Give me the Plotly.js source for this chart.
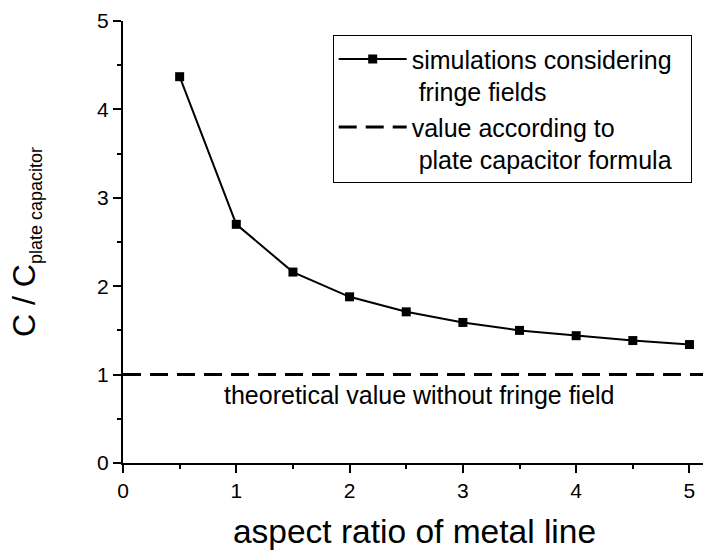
<!DOCTYPE html>
<html>
<head>
<meta charset="utf-8">
<script src="https://cdn.plot.ly/plotly-3.0.1.min.js"></script>
<style>
html,body{margin:0;padding:0;overflow:hidden;background:#fff;}
#chart{width:710px;height:554px;}
</style>
</head>
<body>
<div id="chart"></div>
<script>
// ---- data ----
var aspectRatio = [0.5, 1, 1.5, 2, 2.5, 3, 3.5, 4, 4.5, 5];
var capRatio    = [4.37, 2.70, 2.16, 1.88, 1.71, 1.59, 1.50, 1.44, 1.385, 1.34];
var plateValue  = 1;
var xRange = [0, 5.146];
var yRange = [0, 5];
var simLabel   = 'simulations considering&nbsp;&nbsp;<br>&nbsp;fringe fields';
var plateLabel = 'value according to<br>&nbsp;plate capacitor formula';
var noteText   = 'theoretical value without fringe field';
var noteX = 2.62, noteY = 0.77;
var xTitle = 'aspect ratio of metal line';
var yTitle = 'C / C<sub><span style="font-size:18px">plate capacitor</span></sub>';

var FONT = 'Arial, "Liberation Sans", sans-serif';

var traces = [
  {
    x: aspectRatio, y: capRatio, type: 'scatter', mode: 'lines+markers',
    name: simLabel,
    line: {color: '#000', width: 2},
    marker: {symbol: 'square', size: 9, color: '#000'},
    cliponaxis: false
  },
  {
    x: xRange, y: [plateValue, plateValue], type: 'scatter', mode: 'lines',
    name: plateLabel,
    line: {color: '#000', width: 3, dash: '18px,9px'}
  }
];

var layout = {
  width: 710, height: 554,
  margin: {l: 123, r: 4, t: 21, b: 91},
  paper_bgcolor: '#fff', plot_bgcolor: '#fff',
  font: {family: FONT, color: '#000', size: 21},
  showlegend: true,
  legend: {
    x: 0.3597, y: 0.968, xanchor: 'left', yanchor: 'top',
    bordercolor: '#000', borderwidth: 1, bgcolor: '#fff',
    font: {family: FONT, size: 25, color: '#000'},
    itemwidth: 68, valign: 'top', tracegroupgap: 0
  },
  xaxis: {
    range: xRange, showgrid: false, zeroline: false,
    showline: true, linecolor: '#000', linewidth: 2,
    ticks: 'outside', ticklen: 8, tickwidth: 2, tickcolor: '#000',
    tick0: 0, dtick: 1,
    minor: {ticks: 'outside', ticklen: 4, tickwidth: 2, tickcolor: '#000', dtick: 0.5},
    tickfont: {family: FONT, size: 21, color: '#000'},
    title: {text: xTitle, font: {family: FONT, size: 33.5, color: '#000'}, standoff: 18}
  },
  xaxis2: {
    range: xRange, overlaying: 'x', side: 'top', anchor: 'y',
    showgrid: false, zeroline: false, showline: true, linecolor: '#000', linewidth: 2,
    ticks: 'inside', ticklen: 8, tickwidth: 2, tickcolor: '#000',
    tick0: 0, dtick: 0.5, showticklabels: false
  },
  yaxis: {
    range: yRange, showgrid: false, zeroline: false,
    showline: true, linecolor: '#000', linewidth: 2,
    ticks: 'outside', ticklen: 8, tickwidth: 2, tickcolor: '#000',
    tick0: 0, dtick: 1,
    minor: {ticks: 'outside', ticklen: 4, tickwidth: 2, tickcolor: '#000', dtick: 0.5},
    tickfont: {family: FONT, size: 21, color: '#000'},
    title: {text: yTitle, font: {family: FONT, size: 32, color: '#000'}, standoff: 52}
  },
  yaxis2: {
    range: yRange, overlaying: 'y', side: 'right', anchor: 'x',
    showgrid: false, zeroline: false, showline: true, linecolor: '#000', linewidth: 2,
    ticks: 'inside', ticklen: 6, tickwidth: 2, tickcolor: '#000',
    tick0: 0, dtick: 0.5, showticklabels: false
  },
  annotations: [{
    x: noteX, y: noteY, xref: 'x', yref: 'y', text: noteText, showarrow: false,
    font: {family: FONT, size: 25, color: '#000'}
  }]
};

Plotly.newPlot('chart', traces, layout, {displayModeBar: false, staticPlot: true});
</script>
</body>
</html>
